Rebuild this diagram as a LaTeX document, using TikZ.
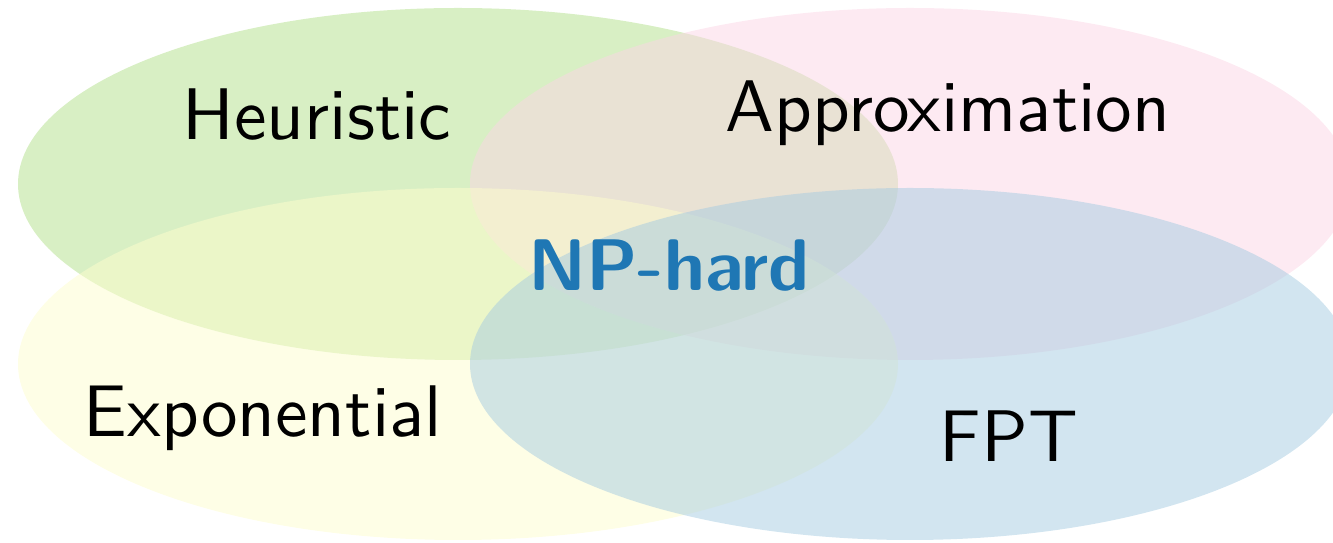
\documentclass[tikz,border=0pt]{standalone}
\usepackage{fontspec}
\setsansfont{lmsans10-regular.otf}[BoldFont=lmsans10-bold.otf]
\usepackage{xcolor}
\definecolor{heurgreen}{RGB}{178,223,138}
\definecolor{approxpink}{RGB}{251,213,229}
\definecolor{expyellow}{RGB}{253,253,205}
\definecolor{fptblue}{RGB}{165,203,225}
\definecolor{npblue}{RGB}{31,119,180}
\begin{document}
\begin{tikzpicture}[font=\sffamily\fontsize{20.8}{24}\selectfont,
  blob/.style={fill opacity=0.5, draw=none},
  lbl/.style={anchor=base, inner sep=0pt}]
\def\rx{4.4} \def\ry{1.76}
\useasboundingbox (0,0) rectangle (13.33,5.43);
\clip (0,0) rectangle (13.33,5.43);
\fill[blob, heurgreen] (4.58,3.59) ellipse [x radius=\rx, y radius=\ry];
\fill[blob, approxpink] (9.10,3.59) ellipse [x radius=\rx, y radius=\ry];
\fill[blob, expyellow] (4.58,1.79) ellipse [x radius=\rx, y radius=\ry];
\fill[blob, fptblue] (9.10,1.79) ellipse [x radius=\rx, y radius=\ry];
\node[lbl] (heur) at (3.17,4.03) {Heuristic};
\node[lbl] (approx) at (9.48,4.11) {Approximation};
\node[lbl] (expo) at (2.63,1.06) {Exponential};
\node[lbl] (fpt) at (10.09,0.81) {FPT};
\node[lbl, text=npblue, font=\sffamily\bfseries\fontsize{20.8}{24}\selectfont] (np) at (6.69,2.52) {NP-hard};
\end{tikzpicture}
\end{document}
